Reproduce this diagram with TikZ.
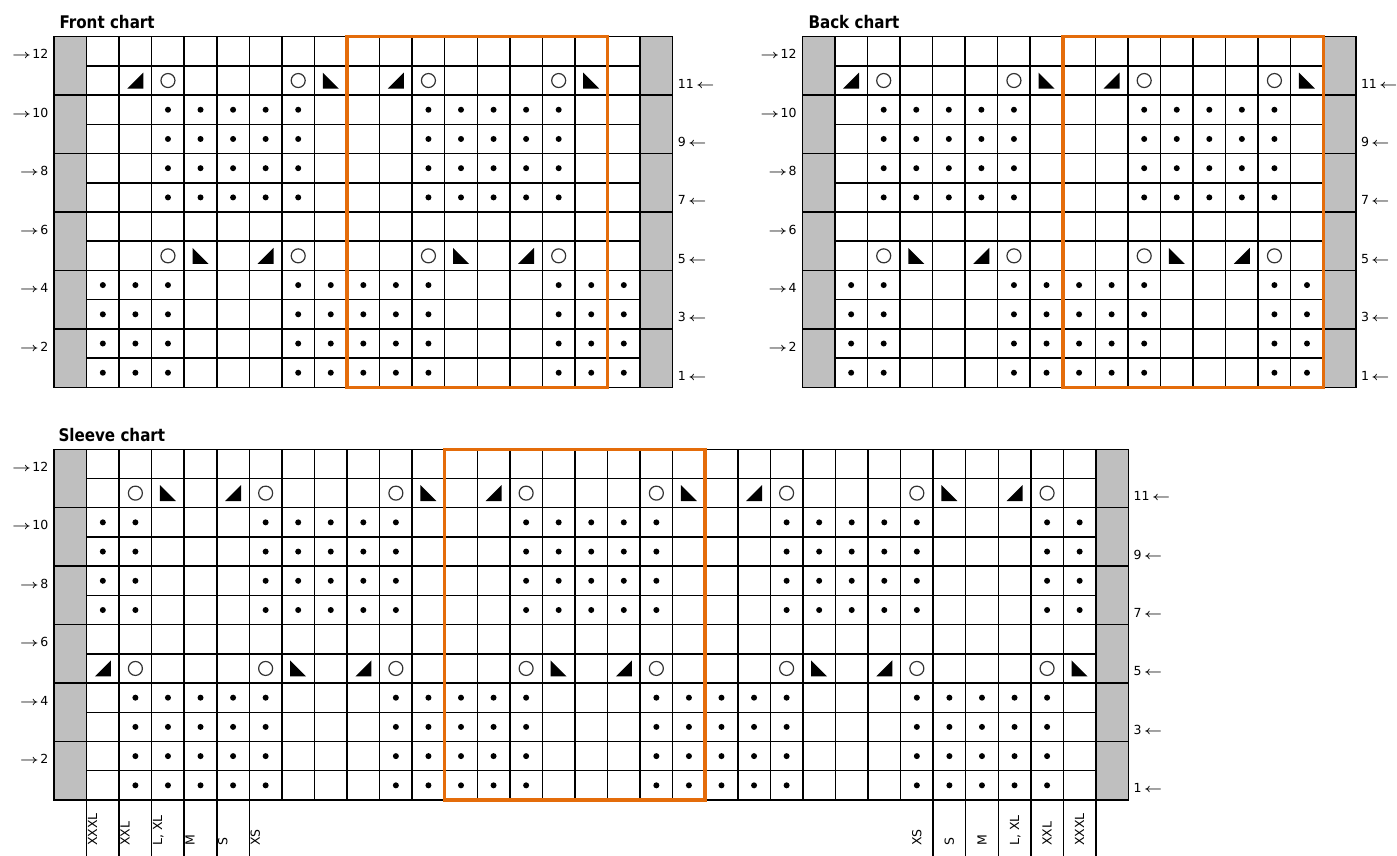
\documentclass[tikz,border=0pt]{standalone}
\usepackage{fontspec}
\setmainfont{DejaVu Sans}
\newfontfamily\titlefont[FakeStretch=0.87]{DejaVu Sans}
\definecolor{chartorange}{HTML}{E46C0A}
\definecolor{chartgray}{HTML}{BFBFBF}
\def\cw{32.56}
\def\rh{29.22}
\tikzset{
  gridline/.style={line width=1.5pt, draw=black},
  graycell/.style={fill=chartgray, draw=black, line width=1.5pt},
  orangebox/.style={draw=chartorange, line width=3.5pt},
  yocirc/.style={draw=black!80, line width=1.2pt},
  rowlab/.style={font=\fontsize{12.5}{14}\selectfont, inner sep=0pt, text height=9pt, text depth=0pt},
  titletext/.style={font=\titlefont\bfseries\fontsize{17.4}{20}\selectfont, inner sep=0pt},
  sizelab/.style={font=\fontsize{12.5}{14}\selectfont, inner sep=0pt, rotate=90, text height=9.1pt, text depth=0pt},
  sizeline/.style={line width=1.5pt, draw=black},
}
\newcommand\kdot[2]{\fill ({#1},{#2}) circle[radius=3];}
\newcommand\kyo[2]{\draw[yocirc] ({#1},{#2}) circle[radius=7];}
\newcommand\ktriR[2]{\fill ({#1-8},{#2+8}) -- ({#1+8},{#2+8}) -- ({#1+8},{#2-8}) -- cycle;}
\newcommand\ktriL[2]{\fill ({#1-8},{#2+8}) -- ({#1-8},{#2-8}) -- ({#1+8},{#2+8}) -- cycle;}
\newcommand\lowdots{\foreach \r in {1,...,4}{\kdot{\xc}{(12.5-\r)*\rh}}}
\newcommand\highdots{\foreach \r in {7,...,10}{\kdot{\xc}{(12.5-\r)*\rh}}}
\newcommand\rarr{\scalebox{1.35}[1]{\boldmath$\rightarrow$}}
\newcommand\larr{\scalebox{1.3}[1]{\boldmath$\leftarrow$}}
% #1 x0, #2 y0, #3 columns, #4 phase offset, #5 orange first column, #6 name
\newcommand\knitchart[6]{%
  \begin{scope}[shift={(#1,#2)}]
    \pgfmathtruncatemacro\nlast{#3+1}
    \pgfmathtruncatemacro\clast{#3-1}
    \foreach \k in {0,...,5}{
      \filldraw[graycell] (0,{2*\k*\rh}) rectangle ({\cw},{2*(\k+1)*\rh});
      \filldraw[graycell] ({(#3+1)*\cw},{2*\k*\rh}) rectangle ({(#3+2)*\cw},{2*(\k+1)*\rh});
    }
    \foreach \j in {0,...,12}{
      \draw[gridline] ({\cw},{\j*\rh}) -- ({(#3+1)*\cw},{\j*\rh});
    }
    \foreach \i in {1,...,\nlast}{
      \draw[gridline] ({\i*\cw},0) -- ({\i*\cw},{12*\rh});
    }
    \foreach \c in {0,...,\clast}{
      \pgfmathtruncatemacro\ph{mod(\c+#4,8)}
      \pgfmathsetmacro\xc{(\c+1.5)*\cw}
      \pgfmathsetmacro\yf{7.5*\rh}
      \pgfmathsetmacro\ye{1.5*\rh}
      \ifcase\ph
        \lowdots
      \or
        \lowdots \ktriR{\xc}{\ye}
      \or
        \lowdots \highdots \kyo{\xc}{\yf} \kyo{\xc}{\ye}
      \or
        \highdots \ktriL{\xc}{\yf}
      \or
        \highdots
      \or
        \highdots \ktriR{\xc}{\yf}
      \or
        \lowdots \highdots \kyo{\xc}{\yf} \kyo{\xc}{\ye}
      \or
        \lowdots \ktriL{\xc}{\ye}
      \fi
    }
    \draw[orangebox] ({(#5+1)*\cw},0) rectangle ({(#5+9)*\cw},{12*\rh});
    \foreach \r in {2,4,...,12}{
      \node[rowlab, anchor=east] (#6left\r) at (-5.5,{(12.5-\r)*\rh+3}) {\rarr\kern1.5pt\r};
    }
    \foreach \r in {1,3,...,11}{
      \node[rowlab, anchor=west] (#6right\r) at ({(#3+2)*\cw+5},{(12.5-\r)*\rh+3}) {\r\kern2.5pt\larr};
    }
  \end{scope}
}
\begin{document}
\begin{tikzpicture}[x=1pt,y=-1pt]
  \fill[white] (0,0) rectangle (1397,856);
  \useasboundingbox (0,0) rectangle (1397,856);
  \node[titletext, anchor=base west] (fronttitle) at (59.3,29) {Front chart};
  \node[titletext, anchor=base west] (backtitle) at (808.3,29) {Back chart};
  \node[titletext, anchor=base west] (sleevetitle) at (58.3,441) {Sleeve chart};
  \knitchart{54}{36.7}{17}{0}{8}{front}
  \knitchart{802.3}{36.7}{15}{1}{7}{back}
  \knitchart{54}{449.3}{31}{5}{11}{sleeve}
  % size labels below the sleeve chart
  \foreach \c/\t in {0/XXXL,1/XXL,2/{L, XL},3/M,4/S,5/XS}{
    \coordinate (sizeL\c) at ({54+(\c+1)*\cw},{449.3+12*\rh});
    \draw[sizeline] (sizeL\c) -- ++(0,60);
    \node[sizelab, anchor=north west] (sizeLt\c) at ({54+(\c+1)*\cw+1.2},846) {\t};
  }
  \foreach \c/\t in {25/XS,26/S,27/M,28/{L, XL},29/XXL,30/XXXL}{
    \coordinate (sizeR\c) at ({54+(\c+2)*\cw},{449.3+12*\rh});
    \draw[sizeline] (sizeR\c) -- ++(0,60);
    \node[sizelab, anchor=west] (sizeRt\c) at ({54+(\c+1.5)*\cw},846) {\t};
  }
\end{tikzpicture}
\end{document}
